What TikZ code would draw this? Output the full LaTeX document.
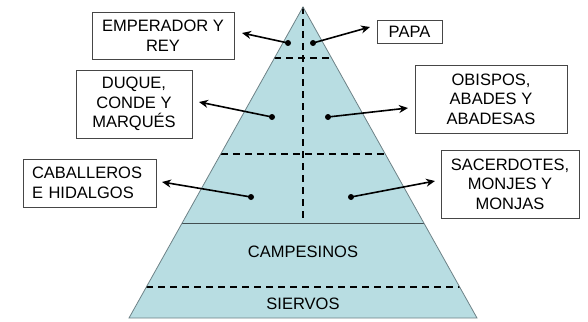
\documentclass[tikz,border=0pt]{standalone}
\usepackage{fontspec}
\setmainfont{Liberation Sans}
\usetikzlibrary{calc,arrows.meta}
\definecolor{pyrfill}{RGB}{184,221,226}
\definecolor{pyredge}{RGB}{110,130,135}
\definecolor{boxedge}{RGB}{70,70,70}
\tikzset{
  lbl/.style={draw=boxedge, line width=0.8pt, fill=white, align=center, inner sep=0pt,
              font=\fontsize{16.5}{19.5}\selectfont},
  divline/.style={dashed, line width=1.6pt, dash pattern=on 7pt off 5pt},
  ptr/.style={line width=1.6pt, -{Stealth[length=9pt,width=8pt]}},
  dotmark/.style={fill=black, circle, inner sep=0pt, minimum size=6pt},
  level/.style={font=\fontsize{16.5}{19.5}\selectfont}
}
\begin{document}
\begin{tikzpicture}[x=1pt,y=-1pt]
\useasboundingbox (0,0) rectangle (588,321);
% pyramid
\coordinate (apex) at (303,7);
\coordinate (bl) at (129,318);
\coordinate (br) at (477,318);
\fill[pyrfill] (apex) -- (bl) -- (br) -- cycle;
% separators
\draw[divline] ($(apex)!0.164!(bl)$) -- ($(apex)!0.164!(br)$);
\draw[divline] ($(apex)!0.4727!(bl)$) -- ($(apex)!0.4727!(br)$);
\draw[divline] ($(apex)!0.9003!(bl)$) -- ($(apex)!0.9003!(br)$);
\draw[pyredge!60!black, line width=0.8pt] ($(apex)!0.6945!(bl)$) coordinate (sl) -- ($(apex)!0.6945!(br)$) coordinate (sr);
\coordinate (mid) at ($(sl)!0.5!(sr)$);
\draw[divline] (apex) -- (mid);
\draw[pyredge, line width=0.8pt] (apex) -- (bl) -- (br) -- cycle;
% level texts
\node[level] (camp) at (303,252) {CAMPESINOS};
\node[level] (sierv) at (303,304) {SIERVOS};
% boxes
\node[lbl, minimum width=142pt, minimum height=47pt] (emp) at (163,35.5) {EMPERADOR Y\\REY};
\node[lbl, minimum width=65pt, minimum height=23pt] (papa) at (409.5,31.5) {PAPA};
\node[lbl, minimum width=116pt, minimum height=68pt] (duq) at (134,104) {DUQUE,\\CONDE Y\\MARQUÉS};
\node[lbl, minimum width=152pt, minimum height=68pt] (obi) at (491,99) {OBISPOS,\\ABADES Y\\ABADESAS};
\node[lbl, minimum width=133pt, minimum height=48pt, align=left, text width=115pt] (cab) at (89.5,183) {CABALLEROS\\E HIDALGOS};
\node[lbl, minimum width=138pt, minimum height=68pt] (sac) at (510,184) {SACERDOTES,\\MONJES Y\\MONJAS};
% dots
\node[dotmark] (d1) at (288,43) {};
\node[dotmark] (d2) at (313,43) {};
\node[dotmark] (d3) at (272,117) {};
\node[dotmark] (d4) at (328,117) {};
\node[dotmark] (d5) at (251,197) {};
\node[dotmark] (d6) at (351,197) {};
% arrow tips
\coordinate (t1) at (242,33);
\coordinate (t2) at (370,27);
\coordinate (t3) at (199,102);
\coordinate (t4) at (408,108);
\coordinate (t5) at (162,182);
\coordinate (t6) at (435,181);
\draw[ptr] (d1.center) -- (t1);
\draw[ptr] (d2.center) -- (t2);
\draw[ptr] (d3.center) -- (t3);
\draw[ptr] (d4.center) -- (t4);
\draw[ptr] (d5.center) -- (t5);
\draw[ptr] (d6.center) -- (t6);
\end{tikzpicture}
\end{document}
